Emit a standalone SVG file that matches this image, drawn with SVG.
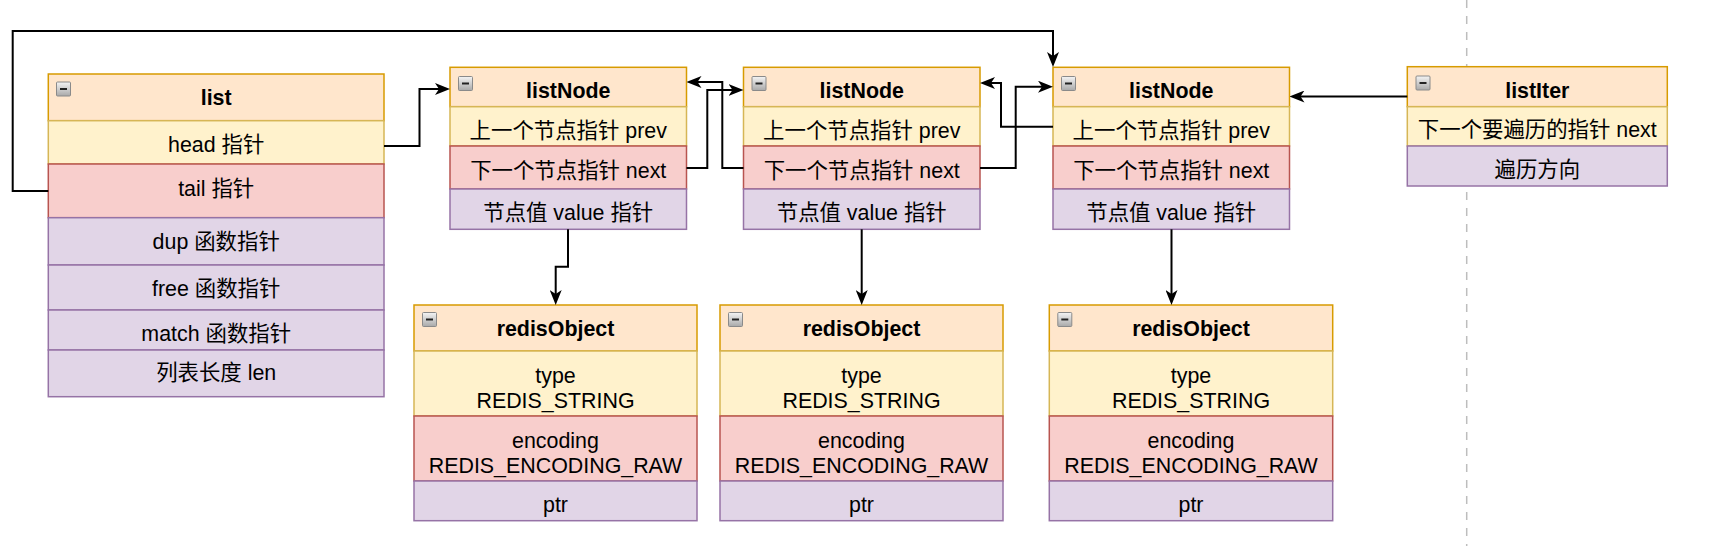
<svg xmlns="http://www.w3.org/2000/svg" xmlns:xlink="http://www.w3.org/1999/xlink" width="1716" height="546" viewBox="0 0 1716 546">
<style>
.hd{fill:#ffe6cc;stroke:#d79b00;stroke-width:1.5}
.ye{fill:#fff2cc;stroke:#d6b656;stroke-width:1.5}
.rd{fill:#f8cecc;stroke:#b85450;stroke-width:1.5}
.pu{fill:#e1d5e7;stroke:#9673a6;stroke-width:1.5}
text{font-family:'Liberation Sans','Noto Sans CJK SC',sans-serif;font-size:21.4px;text-anchor:middle;dominant-baseline:central;fill:#000}
.b{font-weight:bold}
.edge{fill:none;stroke:#000;stroke-width:2;marker-end:url(#arr)}
.sep{stroke:#bdbdbd;stroke-width:1.5;stroke-dasharray:8 8;fill:none}
</style>
<defs>
<marker id="arr" markerUnits="userSpaceOnUse" viewBox="0 0 15 12" refX="11" refY="6" markerWidth="15" markerHeight="12" orient="auto">
<path d="M0,0 L15,6 L0,12 L4,6 Z" fill="#000"/>
</marker>
<linearGradient id="ig" x1="0" y1="0" x2="0" y2="1">
<stop offset="0" stop-color="#f4f4f4"/>
<stop offset="1" stop-color="#a9a9a9"/>
</linearGradient>
<g id="icon">
<rect x="0" y="0" width="14" height="14" rx="1" fill="url(#ig)" stroke="#8a8a8a" stroke-width="1"/>
<line x1="3.5" y1="7" x2="10.5" y2="7" stroke="#222" stroke-width="2"/>
</g>
</defs>

<line class="sep" x1="1466.7" y1="0" x2="1466.7" y2="546"/>

<g id="list">
<rect class="hd" x="48.3" y="74" width="335.7" height="46.7"/>
<rect class="ye" x="48.3" y="120.7" width="335.7" height="43.3"/>
<rect class="rd" x="48.3" y="164" width="335.7" height="53.7"/>
<rect class="pu" x="48.3" y="217.7" width="335.7" height="47.3"/>
<rect class="pu" x="48.3" y="265" width="335.7" height="45"/>
<rect class="pu" x="48.3" y="310" width="335.7" height="40"/>
<rect class="pu" x="48.3" y="350" width="335.7" height="46.7"/>
<use xlink:href="#icon" x="56.5" y="82"/>
<text class="b" x="216.2" y="98">list</text>
<text x="216.2" y="145">head 指针</text>
<text x="216.2" y="189">tail 指针</text>
<text x="216.2" y="242">dup 函数指针</text>
<text x="216.2" y="288.5">free 函数指针</text>
<text x="216.2" y="333.5">match 函数指针</text>
<text x="216.2" y="373">列表长度 len</text>
</g>

<g id="listNode1">
<rect class="hd" x="450" y="67.3" width="236.5" height="39.4"/>
<rect class="ye" x="450" y="106.7" width="236.5" height="39.3"/>
<rect class="rd" x="450" y="146" width="236.5" height="43"/>
<rect class="pu" x="450" y="189" width="236.5" height="40.3"/>
<use xlink:href="#icon" x="458.5" y="76.5"/>
<text class="b" x="568.25" y="91">listNode</text>
<text x="568.25" y="130.5">上一个节点指针 prev</text>
<text x="568.25" y="171">下一个节点指针 next</text>
<text x="568.25" y="212.5">节点值 value 指针</text>
</g>

<g id="listNode2">
<rect class="hd" x="743.5" y="67.3" width="236.5" height="39.4"/>
<rect class="ye" x="743.5" y="106.7" width="236.5" height="39.3"/>
<rect class="rd" x="743.5" y="146" width="236.5" height="43"/>
<rect class="pu" x="743.5" y="189" width="236.5" height="40.3"/>
<use xlink:href="#icon" x="752" y="76.5"/>
<text class="b" x="861.75" y="91">listNode</text>
<text x="861.75" y="130.5">上一个节点指针 prev</text>
<text x="861.75" y="171">下一个节点指针 next</text>
<text x="861.75" y="212.5">节点值 value 指针</text>
</g>

<g id="listNode3">
<rect class="hd" x="1053" y="67.3" width="236.5" height="39.4"/>
<rect class="ye" x="1053" y="106.7" width="236.5" height="39.3"/>
<rect class="rd" x="1053" y="146" width="236.5" height="43"/>
<rect class="pu" x="1053" y="189" width="236.5" height="40.3"/>
<use xlink:href="#icon" x="1061.5" y="76.5"/>
<text class="b" x="1171.25" y="91">listNode</text>
<text x="1171.25" y="130.5">上一个节点指针 prev</text>
<text x="1171.25" y="171">下一个节点指针 next</text>
<text x="1171.25" y="212.5">节点值 value 指针</text>
</g>

<g id="listIter">
<rect class="hd" x="1407.3" y="66.7" width="260" height="40"/>
<rect class="ye" x="1407.3" y="106.7" width="260" height="39.3"/>
<rect class="pu" x="1407.3" y="146" width="260" height="40"/>
<use xlink:href="#icon" x="1416" y="76"/>
<text class="b" x="1537.3" y="91">listIter</text>
<text x="1537.3" y="130">下一个要遍历的指针 next</text>
<text x="1537.3" y="170">遍历方向</text>
</g>

<g id="redisObject1">
<rect class="hd" x="414" y="305" width="283" height="46"/>
<rect class="ye" x="414" y="351" width="283" height="65"/>
<rect class="rd" x="414" y="416" width="283" height="65"/>
<rect class="pu" x="414" y="481" width="283" height="39.7"/>
<use xlink:href="#icon" x="422.5" y="312.5"/>
<text class="b" x="555.5" y="329">redisObject</text>
<text x="555.5" y="376">type</text>
<text x="555.5" y="401">REDIS_STRING</text>
<text x="555.5" y="441">encoding</text>
<text x="555.5" y="466">REDIS_ENCODING_RAW</text>
<text x="555.5" y="504.5">ptr</text>
</g>

<g id="redisObject2">
<rect class="hd" x="720" y="305" width="283" height="46"/>
<rect class="ye" x="720" y="351" width="283" height="65"/>
<rect class="rd" x="720" y="416" width="283" height="65"/>
<rect class="pu" x="720" y="481" width="283" height="39.7"/>
<use xlink:href="#icon" x="728.5" y="312.5"/>
<text class="b" x="861.5" y="329">redisObject</text>
<text x="861.5" y="376">type</text>
<text x="861.5" y="401">REDIS_STRING</text>
<text x="861.5" y="441">encoding</text>
<text x="861.5" y="466">REDIS_ENCODING_RAW</text>
<text x="861.5" y="504.5">ptr</text>
</g>

<g id="redisObject3">
<rect class="hd" x="1049.3" y="305" width="283.4" height="46"/>
<rect class="ye" x="1049.3" y="351" width="283.4" height="65"/>
<rect class="rd" x="1049.3" y="416" width="283.4" height="65"/>
<rect class="pu" x="1049.3" y="481" width="283.4" height="39.7"/>
<use xlink:href="#icon" x="1057.8" y="312.5"/>
<text class="b" x="1191" y="329">redisObject</text>
<text x="1191" y="376">type</text>
<text x="1191" y="401">REDIS_STRING</text>
<text x="1191" y="441">encoding</text>
<text x="1191" y="466">REDIS_ENCODING_RAW</text>
<text x="1191" y="504.5">ptr</text>
</g>

<g id="connectors">
<path class="edge" d="M384,146 H419.5 V89 H446"/>
<path class="edge" d="M686.5,168 H707.3 V90 H739.5"/>
<path class="edge" d="M743.5,168 H722.3 V82 H690.5"/>
<path class="edge" d="M980,168 H1015.7 V86.7 H1049"/>
<path class="edge" d="M1053,126.7 H1001 V83 H984"/>
<path class="edge" d="M48.3,191 H12.7 V31 H1053 V63"/>
<path class="edge" d="M1407.3,96.5 H1293.5"/>
<path class="edge" d="M568,229.3 V266.7 H555.7 V301"/>
<path class="edge" d="M861.7,229.3 V301"/>
<path class="edge" d="M1171.5,229.3 V301"/>
</g>
</svg>
